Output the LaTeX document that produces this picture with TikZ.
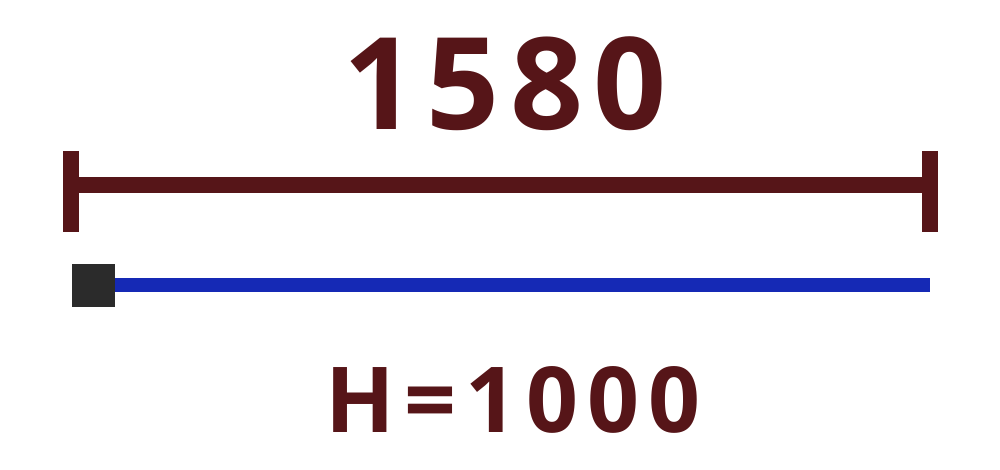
\documentclass[tikz,border=0pt]{standalone}
\usepackage{fontspec}
\setmainfont{Open Sans}[UprightFont=* Bold]
\definecolor{maroon}{HTML}{561518}
\definecolor{lineblue}{HTML}{1529B5}
\definecolor{sqgray}{HTML}{2B2B2B}
\begin{document}
\begin{tikzpicture}[x=1pt,y=-1pt,
  dimline/.style={draw=maroon,line width=16pt},
  label/.style={text=maroon,inner sep=0pt},
  blueline/.style={draw=lineblue,line width=14pt}]
\useasboundingbox (0,0) rectangle (1000,470);
\node[label,font=\fontsize{128}{128}\selectfont\addfontfeatures{LetterSpace=8}] (top) at (505,84) {1580};
\coordinate (L) at (71,185);
\coordinate (R) at (930,185);
\coordinate (Lt) at (71,151);
\coordinate (Lb) at (71,232);
\coordinate (Rt) at (930,151);
\coordinate (Rb) at (930,232);
\draw[dimline] (L) -- (R);
\draw[dimline] (Lt) -- (Lb);
\draw[dimline] (Rt) -- (Rb);
\node[fill=sqgray,minimum width=43pt,minimum height=43pt,inner sep=0pt] (sq) at (93.5,285.5) {};
\coordinate (bend) at (930,285);
\draw[blueline] (sq.east |- bend) -- (bend);
\node[label,font=\fontsize{91}{91}\selectfont\addfontfeatures{LetterSpace=10}] (bottom) at (513,400) {H=1000};
\end{tikzpicture}
\end{document}
